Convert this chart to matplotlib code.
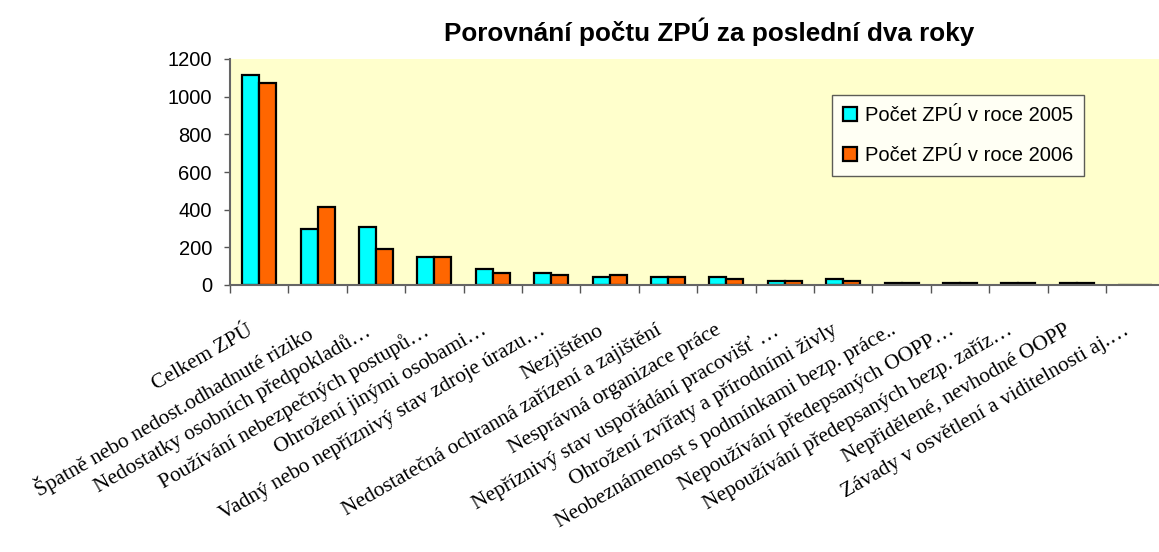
import matplotlib.pyplot as plt
import matplotlib.transforms as mtransforms
import numpy as np

plt.rcParams['font.family'] = ['Liberation Sans', 'DejaVu Sans']

categories = [
    "Celkem ZPÚ",
    "Špatně nebo nedost.odhadnuté riziko",
    "Nedostatky osobních předpokladů…",
    "Používání nebezpečných postupů…",
    "Ohrožení jinými osobami…",
    "Vadný nebo nepříznivý stav zdroje úrazu…",
    "Nezjištěno",
    "Nedostatečná ochranná zařízení a zajištění",
    "Nesprávná organizace práce",
    "Nepříznivý stav uspořádání pracovišť …",
    "Ohrožení zvířaty a přírodními živly",
    "Neobeznámenost s podmínkami bezp. práce..",
    "Nepoužívání předepsaných OOPP…",
    "Nepoužívání předepsaných bezp. zaříz…",
    "Nepřidělené, nevhodné OOPP",
    "Závady v osvětlení a viditelnosti aj.…",
]
zpu_2005 = [1115, 296, 308, 149, 85, 64, 42, 42, 42, 22, 31, 9, 9, 9, 9, 0]
zpu_2006 = [1074, 416, 191, 149, 64, 55, 55, 42, 31, 22, 20, 9, 9, 9, 9, 0]

fig = plt.figure(figsize=(11.59, 5.52), dpi=100)
ax = fig.add_axes([230 / 1159, 1 - 285 / 552, 934.4 / 1159, 226 / 552])
ax.set_facecolor('#FFFFCC')

x = np.arange(len(categories))
width = 0.29  # bar width
ax.bar(x - width / 2, zpu_2005, width=width, color='#00FFFF', edgecolor='black',
       linewidth=1.6, label='Počet ZPÚ v roce 2005')
ax.bar(x + width / 2, zpu_2006, width=width, color='#FF6600', edgecolor='black',
       linewidth=1.6, label='Počet ZPÚ v roce 2006')

ax.set_xlim(-0.5, len(categories) - 0.5)
ax.set_ylim(0, 1200)
ax.set_yticks(range(0, 1201, 200))
ax.tick_params(axis='y', labelsize=14.5, length=4.5, color='#555555', width=1, pad=8.5)

# category boundaries as ticks, labels at centers
ax.set_xticks(np.arange(len(categories) + 1) - 0.5)
ax.set_xticklabels([])
ax.set_xticks(x, minor=True)
ax.set_xticklabels(categories, minor=True, rotation=30, ha='right', va='top',
                   rotation_mode='anchor', family='Liberation Serif', fontsize=15.5)
ax.tick_params(axis='x', which='major', length=6, color='#555555', width=1)
ax.tick_params(axis='x', which='minor', length=0, pad=26)
shift = mtransforms.ScaledTranslation(-12 / 100, 0, fig.dpi_scale_trans)
for lbl in ax.get_xticklabels(minor=True):
    lbl.set_transform(lbl.get_transform() + shift)

for side in ['top', 'right']:
    ax.spines[side].set_visible(False)
for side in ['left', 'bottom']:
    ax.spines[side].set_color('#666666')
    ax.spines[side].set_linewidth(1.5)

leg = ax.legend(loc='upper left', bbox_to_anchor=(0.644, 0.84), fontsize=14.5,
                frameon=True, fancybox=False, handlelength=0.7, handleheight=0.7,
                handletextpad=0.4, labelspacing=1.05, borderpad=0.55, borderaxespad=0)
leg.get_frame().set_edgecolor('#333333')
leg.get_frame().set_linewidth(1)

fig.text(0.612, 1 - 32 / 552, 'Porovnání počtu ZPÚ za poslední dva roky',
         ha='center', va='center', fontsize=18.8, fontweight='bold')

fig.savefig('out.png', dpi=100)
